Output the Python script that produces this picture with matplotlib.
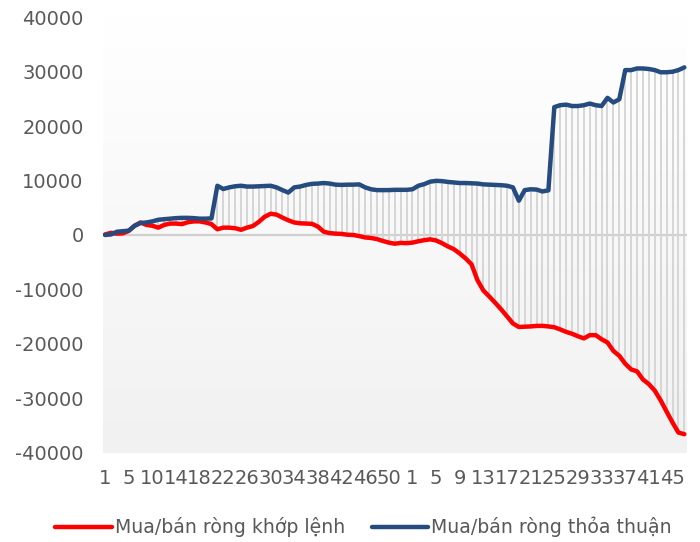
import numpy as np
import matplotlib
matplotlib.use('Agg')
from matplotlib import pyplot as plt

# week numbers on the category axis (two years back to back, week 6 missing in the first one)
weeks_a = [1, 2, 3, 4, 5] + list(range(7, 54))
weeks_b = list(range(1, 48))
weeks = weeks_a + weeks_b

# cumulative net buy/sell
khop_lenh = [100, 400, 250, 300, 750, 1700, 2300, 1850, 1700, 1350,
             1850, 2100, 2100, 2000, 2350, 2500, 2500, 2300, 2000, 1050,
             1350, 1350, 1250, 950, 1350, 1650, 2400, 3350, 3900, 3750,
             3200, 2700, 2300, 2150, 2100, 2050, 1550, 600, 350, 250,
             200, 50, 0, -200, -450, -550, -750, -1100, -1400, -1600,
             -1450, -1500, -1400, -1150, -950, -800, -1000, -1500, -2100, -2600,
             -3400, -4300, -5400, -8300, -10200, -11300, -12450, -13650, -14950, -16250,
             -16900, -16850, -16800, -16700, -16700, -16800, -16950, -17350, -17800, -18150,
             -18600, -19000, -18400, -18400, -19150, -19750, -21300, -22200, -23650, -24700,
             -25050, -26550, -27400, -28600, -30400, -32450, -34450, -36300, -36600]

thoa_thuan = [0, 100, 600, 700, 800, 1700, 2200, 2300, 2500, 2800,
              2900, 3000, 3100, 3150, 3150, 3100, 3000, 3000, 3050, 9050,
              8450, 8750, 8950, 9050, 8900, 8900, 8950, 9000, 9050, 8750,
              8250, 7800, 8750, 8900, 9200, 9400, 9450, 9550, 9450, 9250,
              9200, 9250, 9250, 9300, 8750, 8400, 8250, 8250, 8250, 8300,
              8300, 8300, 8400, 9050, 9350, 9800, 9950, 9900, 9750, 9650,
              9550, 9550, 9500, 9450, 9300, 9250, 9200, 9150, 9050, 8750,
              6300, 8250, 8400, 8350, 8000, 8200, 23500, 23850, 23950, 23700,
              23700, 23850, 24150, 23850, 23700, 25200, 24350, 24950, 30300, 30300,
              30600, 30600, 30500, 30300, 29900, 29900, 30000, 30300, 30800]

y_ticks = [40000, 30000, 20000, 10000, 0, -10000, -20000, -30000, -40000]

W, H = 700, 542
fig = plt.figure(figsize=(W / 100, H / 100), dpi=100)
ax = fig.add_axes([103 / W, 1 - 452.7 / H, 584 / W, 435.4 / H])

x = np.arange(len(weeks))
red = np.array(khop_lenh)
blue = np.array(thoa_thuan)

x0, x1 = -0.35, len(weeks) - 1 + 0.45
ax.set_xlim(x0, x1)
ax.set_ylim(-40000, 40000)

# plot area fill: white at the top to light grey at the bottom
grad = np.linspace(255, 241, 512).reshape(-1, 1) / 255.0
ax.imshow(np.dstack([grad, grad, grad]), extent=[x0, x1, -40000, 40000],
          aspect='auto', zorder=0, interpolation='bilinear')

ax.axhline(0, color='#d0d0d0', lw=1.6, zorder=1)
ax.vlines(x, np.minimum(red, blue), np.maximum(red, blue), color='#d6d6d6', lw=1.4, zorder=2)

ax.plot(x, red, color='#ff0000', lw=3.2, solid_joinstyle='round', solid_capstyle='round',
        zorder=3, label='Mua/bán ròng khớp lệnh')
ax.plot(x, blue, color='#254b7f', lw=3.2, solid_joinstyle='round', solid_capstyle='round',
        zorder=4, label='Mua/bán ròng thỏa thuận')

for s in ax.spines.values():
    s.set_visible(False)

ax.set_yticks(y_ticks)
ax.set_yticklabels([str(v) for v in y_ticks])
ax.set_xticks(x[::4])
ax.set_xticklabels([str(w) for w in weeks[::4]])
ax.tick_params(axis='both', length=0, labelsize=14, colors='#595959')
ax.tick_params(axis='y', pad=14)
ax.tick_params(axis='x', pad=12)

fig.legend(loc='center', bbox_to_anchor=(363.5 / W, 1 - 527 / H), ncol=2, frameon=False,
           fontsize=13.6, labelcolor='#595959', handlelength=3.0, handletextpad=0.15,
           columnspacing=1.4)

fig.savefig('out.png', dpi=100)
